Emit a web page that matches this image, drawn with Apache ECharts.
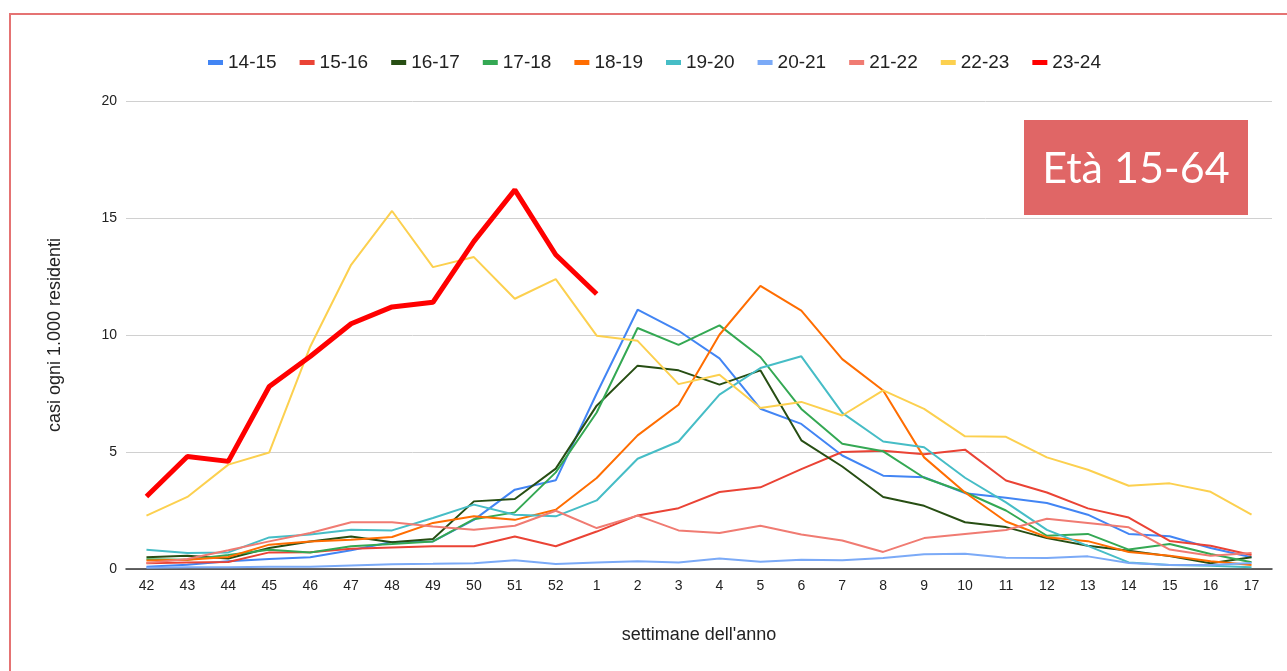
<!DOCTYPE html>
<html>
<head>
<meta charset="utf-8">
<script src="https://cdn.jsdelivr.net/npm/echarts@6/dist/echarts.min.js"></script>
<style>
  html, body { margin: 0; padding: 0; background: #fff; }
  #frame { position: absolute; left: 9px; top: 13px; width: 1400px; height: 800px;
           border-left: 2px solid #e57373; border-top: 2px solid #e57373; }
  #main { position: absolute; left: 0; top: 0; width: 1287px; height: 671px; }
</style>
</head>
<body>
<div id="frame"></div>
<div id="main"></div>
<script>
var weeks = ['42', '43', '44', '45', '46', '47', '48', '49', '50', '51', '52',
    '1', '2', '3', '4', '5', '6', '7', '8', '9', '10', '11', '12', '13', '14', '15', '16', '17'];

var s1415 = [0.1, 0.18, 0.33, 0.43, 0.5, 0.8, 1.15, 1.18, 2.1, 3.39, 3.79, 7.5, 11.08, 10.18, 9.0, 6.85, 6.2, 4.85, 3.99, 3.92, 3.24, 3.04, 2.82, 2.32, 1.5, 1.4, 0.9, 0.5];
var s1516 = [0.25, 0.28, 0.3, 0.71, 0.72, 0.87, 0.92, 0.97, 0.97, 1.39, 0.97, 1.6, 2.29, 2.6, 3.29, 3.49, 4.27, 5.0, 5.05, 4.9, 5.1, 3.78, 3.27, 2.59, 2.2, 1.2, 0.99, 0.6];
var s1617 = [0.5, 0.57, 0.45, 0.9, 1.18, 1.39, 1.14, 1.28, 2.89, 2.99, 4.29, 6.98, 8.69, 8.49, 7.88, 8.49, 5.5, 4.38, 3.08, 2.7, 2.0, 1.79, 1.32, 0.99, 0.78, 0.55, 0.25, 0.5];
var s1718 = [0.42, 0.4, 0.6, 0.82, 0.71, 0.97, 1.07, 1.18, 2.13, 2.42, 4.13, 6.69, 10.3, 9.58, 10.41, 9.06, 6.84, 5.35, 5.03, 3.9, 3.28, 2.5, 1.42, 1.5, 0.83, 1.07, 0.64, 0.29];
var s1819 = [0.36, 0.4, 0.51, 1.04, 1.18, 1.25, 1.37, 1.97, 2.25, 2.1, 2.53, 3.89, 5.71, 7.02, 10.01, 12.1, 11.04, 8.97, 7.63, 4.77, 3.27, 2.03, 1.36, 1.19, 0.73, 0.57, 0.33, 0.17];
var s1920 = [0.82, 0.68, 0.71, 1.35, 1.47, 1.68, 1.65, 2.18, 2.75, 2.32, 2.25, 2.93, 4.71, 5.45, 7.45, 8.59, 9.09, 6.67, 5.45, 5.2, 3.9, 2.85, 1.67, 0.99, 0.28, 0.17, 0.14, 0.07];
var s2021 = [0.05, 0.07, 0.08, 0.1, 0.1, 0.15, 0.2, 0.22, 0.25, 0.37, 0.21, 0.28, 0.33, 0.28, 0.45, 0.31, 0.4, 0.37, 0.47, 0.63, 0.65, 0.48, 0.47, 0.54, 0.26, 0.17, 0.17, 0.26];
var s2122 = [0.26, 0.43, 0.8, 1.18, 1.54, 2.0, 2.0, 1.82, 1.68, 1.85, 2.49, 1.75, 2.28, 1.65, 1.54, 1.85, 1.47, 1.22, 0.73, 1.32, 1.5, 1.67, 2.15, 1.97, 1.78, 0.83, 0.57, 0.68];
var s2223 = [2.28, 3.08, 4.46, 4.98, 9.5, 13.0, 15.3, 12.9, 13.33, 11.55, 12.39, 9.97, 9.75, 7.9, 8.3, 6.88, 7.14, 6.56, 7.63, 6.84, 5.67, 5.65, 4.77, 4.24, 3.56, 3.66, 3.3, 2.32];
var s2324 = [3.1, 4.81, 4.6, 7.8, 9.08, 10.48, 11.2, 11.4, 14.0, 16.2, 13.43, 11.75];

var seasons = ['14-15', '15-16', '16-17', '17-18', '18-19', '19-20', '20-21', '21-22', '22-23', '23-24'];
var values = [s1415, s1516, s1617, s1718, s1819, s1920, s2021, s2122, s2223, s2324];
var colors = ['#4285f4', '#ea4335', '#274e13', '#34a853', '#ff6d01', '#46bdc6', '#7baaf7', '#f07b72', '#fcd04f', '#ff0000'];

var chart = echarts.init(document.getElementById('main'));

var series = seasons.map(function (name, i) {
    var last = name === '23-24';
    return {
        name: name,
        type: 'line',
        data: values[i],
        symbol: 'none',
        z: last ? 10 : 2,
        lineStyle: { width: last ? 5 : 2, color: colors[i] },
        itemStyle: { color: colors[i] }
    };
});

var option = {
    animation: false,
    legend: {
        top: 48,
        left: 203,
        icon: 'rect',
        itemWidth: 15,
        itemHeight: 5,
        itemGap: 23,
        textStyle: { fontFamily: 'Liberation Sans, Arial', fontSize: 19, color: '#222' },
        data: seasons
    },
    grid: { left: 126, right: 15, top: 101, bottom: 102 },
    xAxis: {
        type: 'category',
        data: weeks,
        boundaryGap: true,
        name: "settimane dell'anno",
        nameLocation: 'middle',
        nameGap: 57,
        nameTextStyle: { fontFamily: 'Liberation Sans, Arial', fontSize: 18, color: '#222' },
        axisLine: { lineStyle: { color: '#333', width: 1.5 } },
        axisTick: { show: false },
        axisLabel: { fontFamily: 'Liberation Sans, Arial', fontSize: 14, color: '#222', margin: 10, interval: 0 }
    },
    yAxis: {
        type: 'value',
        min: 0,
        max: 20,
        interval: 5,
        name: 'casi ogni 1.000 residenti',
        nameLocation: 'middle',
        nameGap: 62,
        nameTextStyle: { fontFamily: 'Liberation Sans, Arial', fontSize: 18, color: '#222' },
        axisLine: { show: false },
        axisTick: { show: false },
        axisLabel: { fontFamily: 'Liberation Sans, Arial', fontSize: 14, color: '#222', margin: 9 },
        splitLine: { lineStyle: { color: '#d0d0d0', width: 1 } }
    },
    graphic: [{
        type: 'group',
        left: 1024,
        top: 120,
        children: [{
            type: 'rect',
            shape: { x: 0, y: 0, width: 224, height: 95 },
            style: { fill: '#e06666' }
        }, {
            type: 'text',
            x: 112,
            y: 49,
            style: {
                text: 'Età 15-64',
                fill: '#fff',
                font: '43px Lato',
                align: 'center',
                verticalAlign: 'middle'
            }
        }]
    }],
    series: series
};

chart.setOption(option);
</script>
</body>
</html>
